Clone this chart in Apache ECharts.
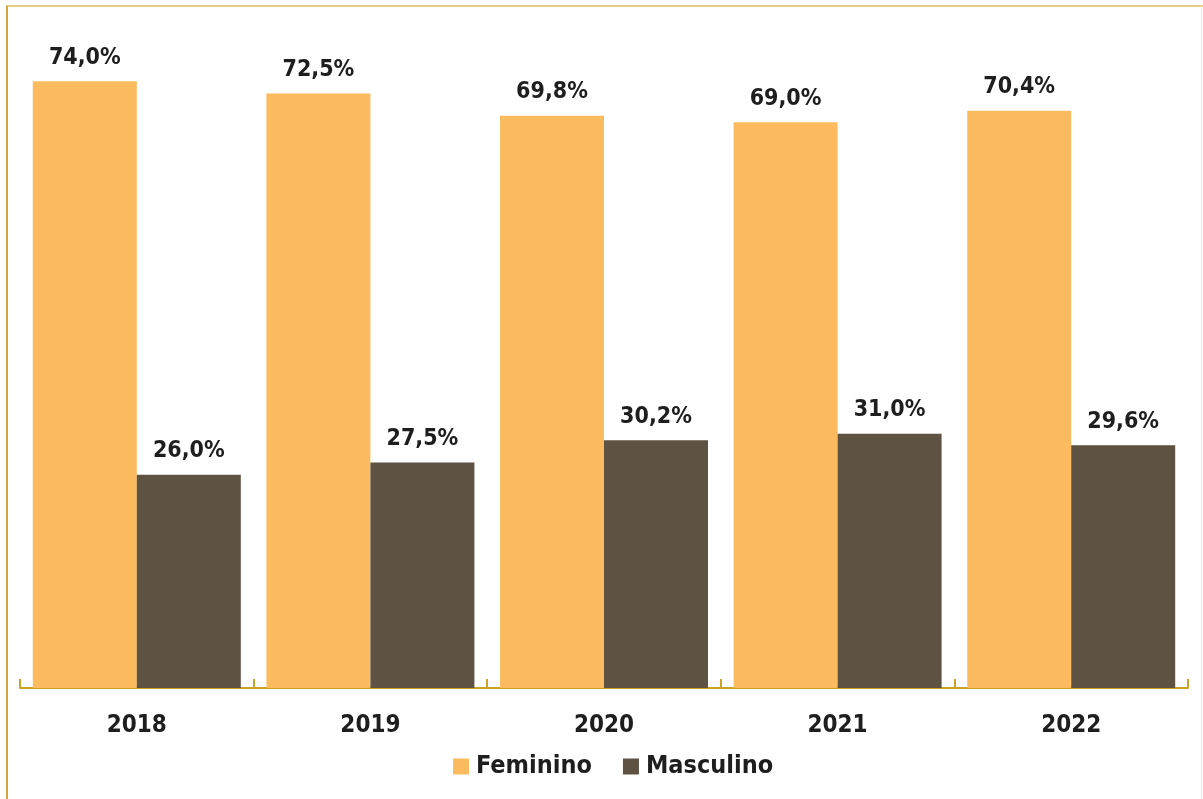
<!DOCTYPE html>
<html>
<head>
<meta charset="utf-8">
<script src="https://cdn.jsdelivr.net/npm/echarts@6/dist/echarts.min.js"></script>
<style>
html,body{margin:0;padding:0;background:#fff;}
#chart{width:1203px;height:799px;}
</style>
</head>
<body>
<div id="chart"></div>
<script>
var categories = ['2018', '2019', '2020', '2021', '2022'];
var feminino = [74.0, 72.5, 69.8, 69.0, 70.4];
var masculino = [26.0, 27.5, 30.2, 31.0, 29.6];
var seriesNames = ['Feminino', 'Masculino'];

var FONT = "'Liberation Sans Narrow', 'DejaVu Sans Condensed', 'Liberation Sans', sans-serif";
var chart = echarts.init(document.getElementById('chart'));
function fmt(p){ return p.value.toFixed(1).replace('.', ',') + '%'; }
var labelStyle = {
  show: true, position: 'top', distance: 12,
  formatter: fmt, fontFamily: FONT, fontWeight: 'bold', fontSize: 23, color: '#1e1e1e'
};
chart.setOption({
  animation: false,
  backgroundColor: '#fff',
  graphic: [
    { type: 'line', shape: { x1: 6, y1: 6, x2: 1203, y2: 6 }, style: { stroke: '#E7CE86', lineWidth: 2 } },
    { type: 'line', shape: { x1: 7, y1: 6, x2: 7, y2: 799 }, style: { stroke: '#D3A838', lineWidth: 2 } },
    { type: 'line', shape: { x1: 1201.5, y1: 6, x2: 1201.5, y2: 799 }, style: { stroke: '#F2E9CC', lineWidth: 1 } }
  ],
  grid: { left: 20, right: 15, top: 32, bottom: 111, containLabel: false },
  legend: {
    data: seriesNames,
    left: 448, top: 749,
    itemWidth: 16, itemHeight: 16, itemGap: 31,
    icon: 'rect',
    textStyle: { fontFamily: FONT, fontWeight: 'bold', fontSize: 25, color: '#1e1e1e', padding: [0,0,0,2] }
  },
  xAxis: {
    type: 'category', data: categories, boundaryGap: true,
    axisLine: { lineStyle: { color: '#C9A227', width: 2 } },
    axisTick: { show: true, inside: true, length: 9, lineStyle: { color: '#C9A227', width: 2 } },
    axisLabel: { fontFamily: FONT, fontWeight: 'bold', fontSize: 24, color: '#1e1e1e', margin: 26 }
  },
  yAxis: {
    type: 'value', min: 0, max: 80, show: false,
    splitLine: { show: false }
  },
  series: [
    { name: seriesNames[0], type: 'bar', data: feminino, barWidth: 104, barGap: '0%',
      itemStyle: { color: '#FDBB5F' }, label: labelStyle },
    { name: seriesNames[1], type: 'bar', data: masculino, barWidth: 104, barGap: '0%',
      itemStyle: { color: '#5E5242' }, label: labelStyle }
  ]
});
</script>
</body>
</html>
